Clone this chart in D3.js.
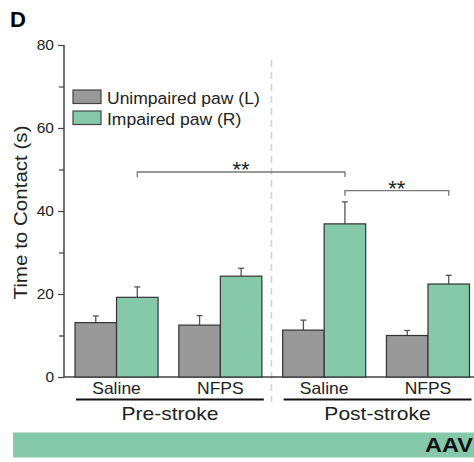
<!DOCTYPE html>
<html>
<head>
<meta charset="utf-8">
<script src="https://cdn.jsdelivr.net/npm/d3@7"></script>
<style>
  body { margin: 0; background: #fff; }
  text { font-family: Arial, "Liberation Sans", sans-serif; }
</style>
</head>
<body>
<div id="chart"></div>
<script>
// Chart data
const groups = ["Pre Saline", "Pre NFPS", "Post Saline", "Post NFPS"];
const groupLabels = ["Saline", "NFPS", "Saline", "NFPS"];
const series = ["Unimpaired paw (L)", "Impaired paw (R)"];
const unimpaired = [13.1, 12.5, 11.3, 10.0];
const unimpairedErr = [1.6, 2.3, 2.4, 1.2];
const impaired = [19.2, 24.3, 36.9, 22.4];
const impairedErr = [2.5, 1.9, 5.3, 2.1];
const yTicks = [0, 20, 40, 60, 80];
const yMinorTicks = [10, 30, 50, 70];
const phases = ["Pre-stroke", "Post-stroke"];

const width = 474;
const height = 462;
const colors = ["#999999", "#85c8aa"];

const svg = d3.select("#chart")
    .append("svg")
    .attr("width", width)
    .attr("height", height);

const y = d3.scaleLinear().domain([0, 80]).range([377, 45]);

const x = d3.scaleBand()
    .domain(groups)
    .range([64, 480.5])
    .paddingInner(0.2)
    .paddingOuter(0.106);

const xSub = d3.scaleBand()
    .domain([0, 1])
    .range([0, x.bandwidth()]);

// text that is a bit wider than Arial, like the original figure font
function wideText(parent, tx, ty, str, size, anchor, sx, rot) {
    return parent.append("text")
        .attr("transform", `translate(${tx},${ty})` + (rot ? ` rotate(${rot})` : "") + ` scale(${sx},1)`)
        .attr("text-anchor", anchor)
        .attr("font-size", size)
        .attr("fill", "#222")
        .text(str);
}

// Panel letter
svg.append("text")
    .attr("x", 10).attr("y", 27)
    .attr("font-size", 22).attr("font-weight", "bold")
    .text("D");

// dashed separator
svg.append("line")
    .attr("x1", 271.5).attr("x2", 271.5)
    .attr("y1", 60).attr("y2", 402)
    .attr("stroke", "#d2d2d2")
    .attr("stroke-width", 1.5)
    .attr("stroke-dasharray", "7,5");

// Y axis
const yAxis = svg.append("g")
    .attr("transform", "translate(64,0)")
    .call(d3.axisLeft(y).tickValues(yTicks).tickSize(6).tickPadding(4).tickFormat(d3.format("d")));
yAxis.select(".domain").attr("stroke", "#444").attr("stroke-width", 1.5).attr("d", "M0,45V377");
yAxis.selectAll(".tick line").attr("stroke", "#444").attr("stroke-width", 1.2);
yAxis.selectAll(".tick text")
    .attr("font-size", 15.5).attr("fill", "#222")
    .style("font-family", "Arial, 'Liberation Sans', sans-serif");

const yMinor = svg.append("g")
    .attr("transform", "translate(64,0)")
    .call(d3.axisLeft(y).tickValues(yMinorTicks).tickSize(5).tickFormat(""));
yMinor.select(".domain").remove();
yMinor.selectAll(".tick line").attr("stroke", "#444").attr("stroke-width", 1.2);

wideText(svg, 27, 212.5, "Time to Contact (s)", 18.7, "middle", 1.1, -90);

// X axis baseline
svg.append("line")
    .attr("x1", 64).attr("x2", width)
    .attr("y1", y(0)).attr("y2", y(0))
    .attr("stroke", "#444").attr("stroke-width", 1.5);

// Bars
const values = [unimpaired, impaired];
const errs = [unimpairedErr, impairedErr];
const barData = [];
groups.forEach((g, i) => {
    [0, 1].forEach(s => {
        barData.push({ group: g, s: s, v: values[s][i], e: errs[s][i] });
    });
});
const cx = d => x(d.group) + xSub(d.s) + xSub.bandwidth() / 2;

const bars = svg.append("g");
bars.selectAll("line.err")
    .data(barData)
    .enter()
    .append("line")
    .attr("class", "err")
    .attr("x1", cx).attr("x2", cx)
    .attr("y1", d => y(d.v))
    .attr("y2", d => y(d.v + d.e))
    .attr("stroke", "#555").attr("stroke-width", 1.3);
bars.selectAll("line.cap")
    .data(barData)
    .enter()
    .append("line")
    .attr("class", "cap")
    .attr("x1", d => cx(d) - 3)
    .attr("x2", d => cx(d) + 3)
    .attr("y1", d => y(d.v + d.e))
    .attr("y2", d => y(d.v + d.e))
    .attr("stroke", "#555").attr("stroke-width", 1.3);
bars.selectAll("rect")
    .data(barData)
    .enter()
    .append("rect")
    .attr("x", d => x(d.group) + xSub(d.s))
    .attr("y", d => y(d.v))
    .attr("width", xSub.bandwidth())
    .attr("height", d => y(0) - y(d.v))
    .attr("fill", d => colors[d.s])
    .attr("stroke", "#333")
    .attr("stroke-width", 1.2);

// Group labels
groups.forEach((g, i) => {
    wideText(svg, x(g) + x.bandwidth() / 2, 393.5, groupLabels[i], 16.5, "middle", 1.06);
});

// Phase underlines + labels
phases.forEach((p, i) => {
    const x0 = x(groups[i * 2]) + 1;
    const x1 = x(groups[i * 2 + 1]) + x.bandwidth() + 2;
    svg.append("line")
        .attr("x1", x0).attr("x2", x1)
        .attr("y1", 399.5).attr("y2", 399.5)
        .attr("stroke", "#111").attr("stroke-width", 2.2);
    wideText(svg, (x0 + x1) / 2, 419.5, p, 18, "middle", 1.17);
});

// Significance brackets
function bracket(xa, xb, yv, label) {
    const yy = y(yv);
    svg.append("path")
        .attr("d", `M${xa},${yy + 5}V${yy}H${xb}V${yy + 5}`)
        .attr("fill", "none")
        .attr("stroke", "#777")
        .attr("stroke-width", 1.3);
    svg.append("text")
        .attr("x", (xa + xb) / 2)
        .attr("y", yy + 5)
        .attr("text-anchor", "middle")
        .attr("font-size", 22)
        .attr("fill", "#222")
        .text(label);
}
bracket(x(groups[0]) + xSub(1) + xSub.bandwidth() / 2,
        x(groups[2]) + xSub(1) + xSub.bandwidth() / 2, 49.4, "**");
bracket(x(groups[2]) + xSub(1) + xSub.bandwidth() / 2,
        x(groups[3]) + xSub(1) + xSub.bandwidth() / 2, 44.9, "**");

// Legend
const legend = svg.append("g");
series.forEach((s, i) => {
    legend.append("rect")
        .attr("x", 73).attr("y", 90 + i * 21)
        .attr("width", 28).attr("height", 13.5)
        .attr("fill", colors[i])
        .attr("stroke", "#444").attr("stroke-width", 1.2);
    wideText(legend, 107, 104 + i * 21, s, 17, "start", 1.03);
});

// AAV band
svg.append("rect")
    .attr("x", 13).attr("y", 432.5)
    .attr("width", width - 13).attr("height", 25)
    .attr("fill", colors[1]);
svg.append("text")
    .attr("transform", "translate(473,452) scale(1.12,1)")
    .attr("text-anchor", "end")
    .attr("font-size", 21).attr("font-weight", "bold")
    .attr("fill", "#111")
    .text("AAV");
</script>
</body>
</html>
